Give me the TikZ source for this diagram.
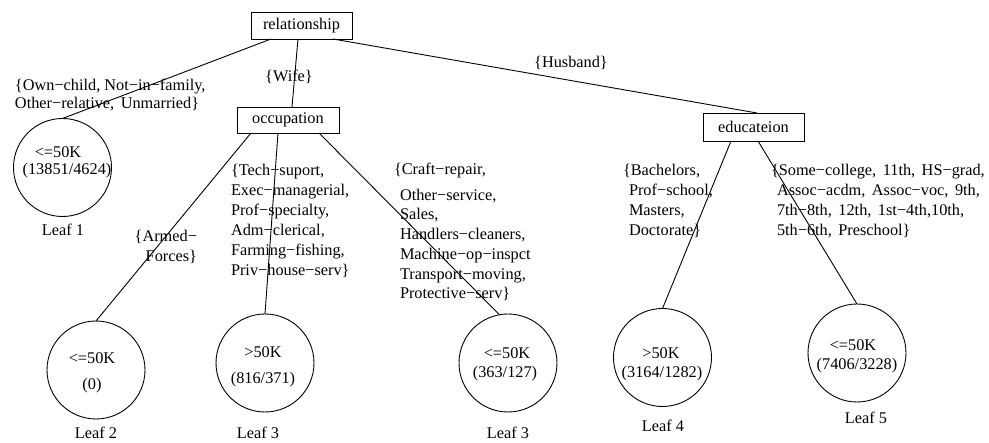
\documentclass[tikz,border=0pt]{standalone}
\usepackage{fontspec}
\setmainfont{Liberation Serif}
\usetikzlibrary{calc}
\newcommand\wsp{\hspace{6.5pt}}
\begin{document}
\begin{tikzpicture}[x=1pt,y=-1pt,
  every node/.style={font=\fontsize{16.3}{20}\selectfont, inner sep=0pt, outer sep=0pt},
  testbox/.style={draw, line width=0.9pt, minimum width=101pt, minimum height=27pt},
  leafnode/.style={draw, circle, line width=0.9pt, minimum size=98pt},
  branch/.style={line width=0.9pt},
  cond/.style={align=left, anchor=west},
]
\useasboundingbox (0,0) rectangle (989,443);

% test nodes
\node[testbox] (rel) at (301.5,25.5) {relationship};
\node[testbox, minimum width=102pt, minimum height=26pt] (occ) at (288,120) {occupation};
\node[testbox, minimum height=28pt] (edu) at (753.5,127) {educateion\hspace{16pt}};

% leaves
\node[leafnode] (leaf1) at (62.5,167.5) {};
\node[leafnode] (leaf2) at (96,370) {};
\node[leafnode] (leaf3a) at (265,363) {};
\node[leafnode] (leaf3b) at (508,363) {};
\node[leafnode] (leaf4) at (662.5,357.5) {};
\node[leafnode] (leaf5) at (857,353) {};

% leaf contents
\node (c1a) at (58,152) {<=50K};
\node (c1b) at (67,171) {(13851/4624)};
\node (c2a) at (92,358) {<=50K};
\node (c2b) at (92,386) {(0)};
\node (c3a) at (263,352) {>50K};
\node (c3b) at (263,380) {(816/371)};
\node (c4a) at (507,353) {<=50K};
\node (c4b) at (505,374) {(363/127)};
\node (c5a) at (661,353) {>50K};
\node (c5b) at (662,374) {(3164/1282)};
\node (c6a) at (853,345) {<=50K};
\node (c6b) at (857,366) {(7406/3228)};

% leaf captions
\node (t1) at (63,230) {Leaf 1};
\node (t2) at (96,433) {Leaf 2};
\node (t3a) at (258,433) {Leaf 3};
\node (t3b) at (508,433) {Leaf 3};
\node (t4) at (663,426) {Leaf 4};
\node (t5) at (866,418) {Leaf 5};

% branches
\draw[branch] ($(rel.south west)+(20,0)$) -- (leaf1.north);
\draw[branch] ($(rel.south)+(-3.5,0)$) -- ($(occ.north)+(4,0)$);
\draw[branch] ($(rel.south)+(31.5,0)$) -- ($(edu.north)+(3.5,0)$);
\draw[branch] ($(occ.south)+(-37,0)$) -- (leaf2.north);
\draw[branch] ($(occ.south)+(-10,0)$) -- (leaf3a.north);
\draw[branch] ($(occ.south)+(31,0)$) -- (leaf3b.100);
\draw[branch] ($(edu.south)+(-22.5,0)$) -- (leaf4.north);
\draw[branch] ($(edu.south)+(4.5,0)$) -- (leaf5.north);

% branch conditions
\node[cond] (l1) at (15,95) {\{Own−child, Not−in−family,\\[-2pt]Other−relative,\wsp Unmarried\}};
\node (l2) at (289,77) {\{Wife\}};
\node (l3) at (571,63) {\{Husband\}};
\node[align=right, anchor=east] (l4) at (197,247) {\{Armed−\\Forces\}};
\node[cond] (l5) at (231,221) {\{Tech−suport,\\Exec−managerial,\\Prof−specialty,\\Adm−clerical,\\Farming−fishing,\\Priv−house−serv\}};
\node[cond] (l6) at (394,232) {\{Craft−repair,\\[6pt]\hspace*{6pt}Other−service,\\[-1pt]\hspace*{6pt}Sales,\\\hspace*{6pt}Handlers−cleaners,\\\hspace*{6pt}Machine−op−inspct\\\hspace*{6pt}Transport−moving,\\[-1pt]\hspace*{6pt}Protective−serv\}};
\node[cond] (l7) at (623,201) {\{Bachelors,\\\hspace*{6pt}Prof−school,\\\hspace*{6pt}Masters,\\\hspace*{6pt}Doctorate\}};
\node[cond] (l8) at (771,201) {\{Some−college,\wsp 11th,\wsp HS−grad,\\\hspace*{6pt}Assoc−acdm,\wsp Assoc−voc,\wsp 9th,\\\hspace*{6pt}7th−8th,\wsp 12th,\wsp 1st−4th,10th,\\\hspace*{6pt}5th−6th,\wsp Preschool\}};
\end{tikzpicture}
\end{document}
